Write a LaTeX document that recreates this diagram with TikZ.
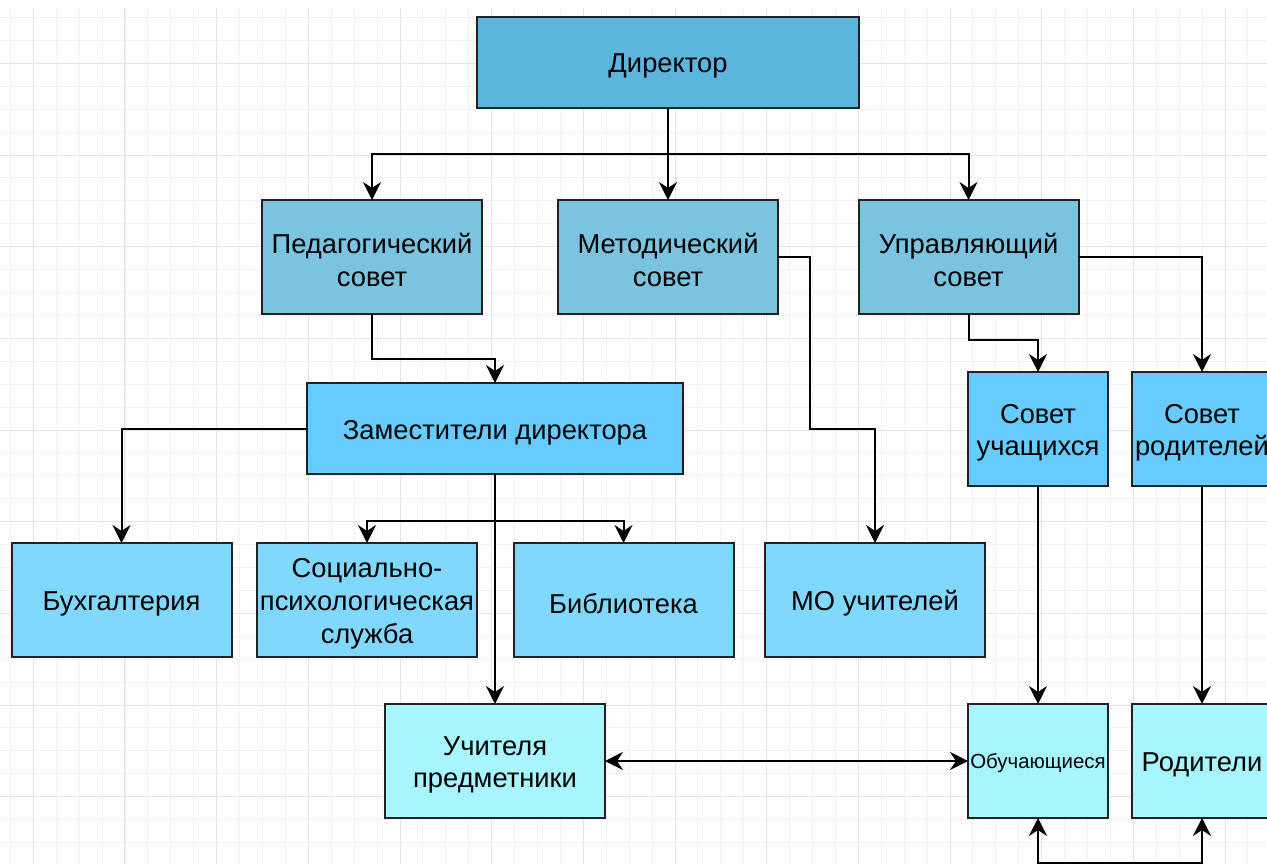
\documentclass[tikz,border=0pt]{standalone}
\usepackage{fontspec}
\setmainfont{Liberation Sans}
\usetikzlibrary{arrows.meta,calc}

\definecolor{gridminor}{HTML}{F2F2F2}
\definecolor{gridmajor}{HTML}{E4E4E4}
\definecolor{cdir}{HTML}{5BB5DD}
\definecolor{csov}{HTML}{7AC4DF}
\definecolor{czam}{HTML}{66CCFF}
\definecolor{cserv}{HTML}{80D8FF}
\definecolor{cbot}{HTML}{A6F5FF}
\definecolor{edge}{HTML}{222222}

% strut that lowers a label slightly inside its box
\newcommand\toprule{\rule{0pt}{20pt}}

\tikzset{
  box/.style={draw=edge, line width=1.5pt, rectangle, inner sep=0pt, outer sep=0pt,
    align=center, font=\fontsize{20.5}{24.5}\selectfont},
  wide/.style={minimum width=165pt, minimum height=85.5pt},
  narrow/.style={minimum width=105pt, minimum height=85.5pt},
  arr/.style={draw=black, line width=1.5pt,
    -{Stealth[length=13.5pt, width=13.5pt, inset=4.5pt]}},
  biarr/.style={draw=black, line width=1.5pt,
    {Stealth[length=13.5pt, width=13.5pt, inset=4.5pt]}-{Stealth[length=13.5pt, width=13.5pt, inset=4.5pt]}},
}

\begin{document}
\begin{tikzpicture}[x=0.75pt, y=-0.75pt]
  \useasboundingbox (0,0) rectangle (1267,864);
  \clip (0,0) rectangle (1267,864);
  \fill[white] (0,0) rectangle (1267,864);

  % background grid
  \foreach \i in {0,...,55} {
    \pgfmathsetmacro{\gx}{10.42+22.917*\i}
    \draw[gridminor, line width=0.75pt] (\gx,8) -- (\gx,864);
  }
  \foreach \i in {0,...,37} {
    \pgfmathsetmacro{\gy}{17.5+22.917*\i}
    \draw[gridminor, line width=0.75pt] (0,\gy) -- (1267,\gy);
  }
  \foreach \i in {0,...,13} {
    \pgfmathsetmacro{\gx}{33.33+91.667*\i}
    \draw[gridmajor, line width=0.75pt] (\gx,8) -- (\gx,864);
  }
  \foreach \i in {0,...,9} {
    \pgfmathsetmacro{\gy}{63.33+91.667*\i}
    \draw[gridmajor, line width=0.75pt] (0,\gy) -- (1267,\gy);
  }

  % boxes
  \node[box, fill=cdir, minimum width=286.5pt, minimum height=68.25pt] (dir) at (668,62.5) {\toprule Директор};

  \node[box, wide, fill=csov] (ped) at (372,257) {\toprule Педагогический\\совет};
  \node[box, wide, fill=csov] (met) at (668,257) {\toprule Методический\\совет};
  \node[box, wide, fill=csov] (upr) at (968.5,257) {\toprule Управляющий\\совет};

  \node[box, fill=czam, minimum width=282pt, minimum height=68.25pt] (zam) at (495,428.5) {\toprule Заместители директора};

  \node[box, narrow, fill=czam] (su) at (1038,429) {\toprule Совет\\учащихся};
  \node[box, narrow, fill=czam] (sr) at (1202,429) {\toprule Совет\\родителей};

  \node[box, wide, fill=cserv] (buh) at (121.5,600) {\toprule Бухгалтерия};
  \node[box, wide, fill=cserv] (soc) at (367,600) {\toprule Социально-\\психологическая\\служба};
  \node[box, wide, fill=cserv] (bib) at (623.5,600) {\toprule Библиотека};
  \node[box, wide, fill=cserv] (mo)  at (875,600) {\toprule МО учителей};

  \node[box, wide, fill=cbot] (uch) at (495,761) {\toprule Учителя\\предметники};
  \node[box, narrow, fill=cbot, font=\fontsize{15.3}{18}\selectfont] (obu) at (1038,761) {\rule{0pt}{15pt}Обучающиеся};
  \node[box, narrow, fill=cbot] (rod) at (1202,761) {\toprule Родители};

  % connectors
  \coordinate (jtop) at (668,154);
  \draw[arr] (dir.south) -- (met.north);
  \draw[arr] (jtop) -| (ped.north);
  \draw[arr] (jtop) -| (upr.north);

  \draw[arr] (ped.south) -- ++(0,45) -| (zam.north);
  \draw[arr] (zam.west) -| (buh.north);

  \coordinate (jzam) at (495,521);
  \draw[arr] (zam.south) -- (uch.north);
  \draw[arr] (jzam) -| (soc.north);
  \draw[arr] (jzam) -| (bib.north);

  \draw[arr] (met.east) -| (810,429) -| (mo.north);

  \draw[arr] (upr.south) -- ++(0,26) -| (su.north);
  \draw[arr] (upr.east) -| (sr.north);

  \draw[arr] (su.south) -- (obu.north);
  \draw[arr] (sr.south) -- (rod.north);

  \draw[biarr] (uch.east) -- (obu.west);
  \draw[biarr] (obu.south) -- ++(0,45) -| (rod.south);
\end{tikzpicture}
\end{document}
